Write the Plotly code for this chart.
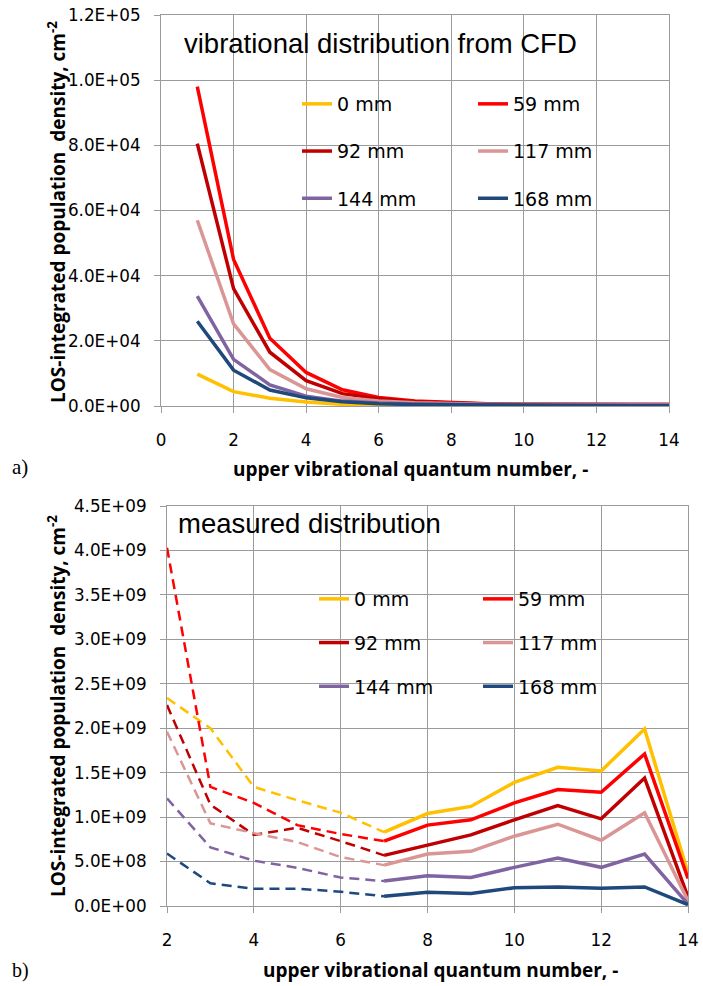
import plotly.graph_objects as go

# ---------------- data ----------------
series_names = ["0 mm", "59 mm", "92 mm", "117 mm", "144 mm", "168 mm"]
series_colors = ["#FFC000", "#FF0000", "#C00000", "#D99694", "#8064A2", "#1F497D"]

# (a) vibrational distribution from CFD
cfd_v = [1, 2, 3, 4, 5, 6, 7, 8, 9, 10, 11, 12, 13, 14]
cfd_0 = [9800, 4400, 2400, 1200, 500, 250, 150, 100, 80, 60, 50, 40, 40, 40]
cfd_59 = [98000, 45000, 20800, 10300, 5000, 2600, 1500, 1000, 700, 600, 500, 500, 500, 500]
cfd_92 = [80500, 36000, 16500, 7800, 3800, 2200, 1300, 900, 650, 550, 500, 450, 400, 400]
cfd_117 = [57000, 25200, 11200, 5300, 2600, 1500, 1000, 700, 550, 500, 450, 450, 450, 450]
cfd_144 = [33700, 14300, 6500, 3000, 1500, 900, 600, 450, 400, 350, 300, 300, 300, 300]
cfd_168 = [26000, 11000, 4900, 2500, 1300, 700, 450, 350, 300, 250, 200, 150, 100, 100]

# (b) measured distribution (dashed for v = 2..7, solid for v = 7..14)
meas_v = [2, 3, 4, 5, 6, 7, 8, 9, 10, 11, 12, 13, 14]
meas_0 = [2.34e9, 2.00e9, 1.34e9, 1.19e9, 1.05e9, 0.83e9, 1.04e9, 1.12e9, 1.39e9, 1.56e9, 1.52e9, 1.99e9, 0.37e9]
meas_59 = [4.03e9, 1.34e9, 1.16e9, 0.91e9, 0.81e9, 0.73e9, 0.91e9, 0.97e9, 1.16e9, 1.31e9, 1.28e9, 1.71e9, 0.31e9]
meas_92 = [2.26e9, 1.14e9, 0.80e9, 0.88e9, 0.73e9, 0.57e9, 0.69e9, 0.80e9, 0.97e9, 1.13e9, 0.98e9, 1.44e9, 0.10e9]
meas_117 = [1.96e9, 0.93e9, 0.82e9, 0.72e9, 0.55e9, 0.46e9, 0.585e9, 0.615e9, 0.785e9, 0.92e9, 0.74e9, 1.05e9, 0.06e9]
meas_144 = [1.21e9, 0.66e9, 0.51e9, 0.43e9, 0.32e9, 0.28e9, 0.34e9, 0.32e9, 0.435e9, 0.54e9, 0.435e9, 0.585e9, 0.02e9]
meas_168 = [0.59e9, 0.255e9, 0.195e9, 0.195e9, 0.16e9, 0.11e9, 0.154e9, 0.14e9, 0.205e9, 0.215e9, 0.20e9, 0.215e9, 0.015e9]
split_v = 7  # boundary between dashed and solid parts

# tick labels
cfd_yticks = [0, 2e4, 4e4, 6e4, 8e4, 1e5, 1.2e5]
cfd_yticktext = ["0.0E+00", "2.0E+04", "4.0E+04", "6.0E+04", "8.0E+04", "1.0E+05", "1.2E+05"]
meas_yticks = [0, 0.5e9, 1.0e9, 1.5e9, 2.0e9, 2.5e9, 3.0e9, 3.5e9, 4.0e9, 4.5e9]
meas_yticktext = ["0.0E+00", "5.0E+08", "1.0E+09", "1.5E+09", "2.0E+09", "2.5E+09",
                  "3.0E+09", "3.5E+09", "4.0E+09", "4.5E+09"]

cfd_series = [cfd_0, cfd_59, cfd_92, cfd_117, cfd_144, cfd_168]
meas_series = [meas_0, meas_59, meas_92, meas_117, meas_144, meas_168]

# ---------------- figure ----------------
OFF = 0  # body margin removed by post_script below
W, H = 703 - OFF, 986 - OFF
TICK_FONT = dict(family="DejaVu Sans", size=16.8, color="#000000")
LEG_FONT = dict(family="DejaVu Sans", size=19, color="#000000")
GRID = "#9B9B9B"

fig = go.Figure()

# column assignment of legends: first column 0/92/144, second 59/117/168
col_of = [0, 1, 0, 1, 0, 1]

for i, (name, col, ys) in enumerate(zip(series_names, series_colors, cfd_series)):
    fig.add_trace(go.Scatter(
        x=cfd_v, y=ys, mode="lines", name=name,
        line=dict(color=col, width=3.5),
        xaxis="x", yaxis="y",
        legend="legend" if col_of[i] == 0 else "legend2",
        legendgroup="a%d" % i,
    ))

k = meas_v.index(split_v)
for i, (name, col, ys) in enumerate(zip(series_names, series_colors, meas_series)):
    fig.add_trace(go.Scatter(
        x=meas_v[:k + 1], y=ys[:k + 1], mode="lines", name=name,
        line=dict(color=col, width=2.5, dash="10px,6px"),
        xaxis="x2", yaxis="y2", showlegend=False,
        legend="legend3" if col_of[i] == 0 else "legend4",
        legendgroup="b%d" % i,
    ))
for i, (name, col, ys) in enumerate(zip(series_names, series_colors, meas_series)):
    fig.add_trace(go.Scatter(
        x=meas_v[k:], y=ys[k:], mode="lines", name=name,
        line=dict(color=col, width=3.5),
        xaxis="x2", yaxis="y2",
        legend="legend3" if col_of[i] == 0 else "legend4",
        legendgroup="b%d" % i,
    ))


def px_x(p):
    return (p - OFF) / W


def px_y(p):
    return 1 - (p - OFF) / H


axis_common = dict(
    showgrid=True, gridcolor=GRID, gridwidth=1,
    showline=True, linecolor=GRID, linewidth=1, mirror=True,
    ticks="outside", ticklen=6, tickcolor=GRID, tickwidth=1,
    tickfont=TICK_FONT, zeroline=False, fixedrange=True, automargin=False,
    ticklabeloverflow="allow",
)

fig.update_layout(
    width=W, height=H,
    margin=dict(l=0, r=0, t=0, b=0, autoexpand=False),
    paper_bgcolor="white", plot_bgcolor="white",
    xaxis=dict(domain=[px_x(161), px_x(669)], range=[0, 14], tickvals=[0, 2, 4, 6, 8, 10, 12, 14],
               anchor="y", ticklabelstandoff=13, **axis_common),
    yaxis=dict(domain=[px_y(406), px_y(15)], range=[0, 1.2e5], tickvals=cfd_yticks,
               ticktext=cfd_yticktext, anchor="x", ticklabelstandoff=10, **axis_common),
    xaxis2=dict(domain=[px_x(167), px_x(688)], range=[2, 14], tickvals=[2, 4, 6, 8, 10, 12, 14],
                anchor="y2", ticklabelstandoff=13, **axis_common),
    yaxis2=dict(domain=[px_y(906), px_y(506)], range=[0, 4.5e9], tickvals=meas_yticks,
                ticktext=meas_yticktext, anchor="x2", ticklabelstandoff=10, **axis_common),
    showlegend=True,
)

leg_common = dict(font=LEG_FONT, bgcolor="rgba(0,0,0,0)", borderwidth=0,
                  xanchor="left", yanchor="top", orientation="v",
                  traceorder="grouped", itemclick=False, itemdoubleclick=False)
fig.update_layout(
    legend=dict(x=px_x(297), y=px_y(85), tracegroupgap=19.5, **leg_common),
    legend2=dict(x=px_x(473), y=px_y(85), tracegroupgap=19.5, **leg_common),
    legend3=dict(x=px_x(314), y=px_y(580), tracegroupgap=16, **leg_common),
    legend4=dict(x=px_x(478), y=px_y(580), tracegroupgap=16, **leg_common),
)

TITLE_FONT = dict(family="Liberation Sans", size=27.5, color="#000000")
AX_FONT = dict(family="Open Sans", size=19, color="#000000")
ytitle = "<b>LOS-integrated population  density, cm<sup>-2</sup></b>"
xtitle = "<b>upper vibrational quantum number, -</b>"

annots = [
    dict(text="vibrational distribution from CFD", x=px_x(182), y=px_y(43), xanchor="left",
         yanchor="middle", font=TITLE_FONT),
    dict(text="measured distribution", x=px_x(176), y=px_y(523), xanchor="left",
         yanchor="middle", font=TITLE_FONT),
    dict(text=xtitle, x=px_x(410), y=px_y(469), xanchor="center", yanchor="middle", font=AX_FONT),
    dict(text=xtitle, x=px_x(440), y=px_y(970), xanchor="center", yanchor="middle", font=AX_FONT),
    dict(text=ytitle, x=px_x(57), y=px_y(212), xanchor="center", yanchor="middle",
         textangle=-90, font=AX_FONT),
    dict(text=ytitle, x=px_x(57), y=px_y(706), xanchor="center", yanchor="middle",
         textangle=-90, font=AX_FONT),
    dict(text="a)", x=px_x(10), y=px_y(467), xanchor="left", yanchor="middle",
         font=dict(family="Liberation Serif", size=21, color="#000000")),
    dict(text="b)", x=px_x(10), y=px_y(970), xanchor="left", yanchor="middle",
         font=dict(family="Liberation Serif", size=20, color="#000000")),
]
for a in annots:
    a.update(xref="paper", yref="paper", showarrow=False)
fig.update_layout(annotations=annots)

fig.write_html("out.html",
               config={"displayModeBar": False},
               post_script="document.body.style.margin='0';document.body.style.overflow='hidden';")
